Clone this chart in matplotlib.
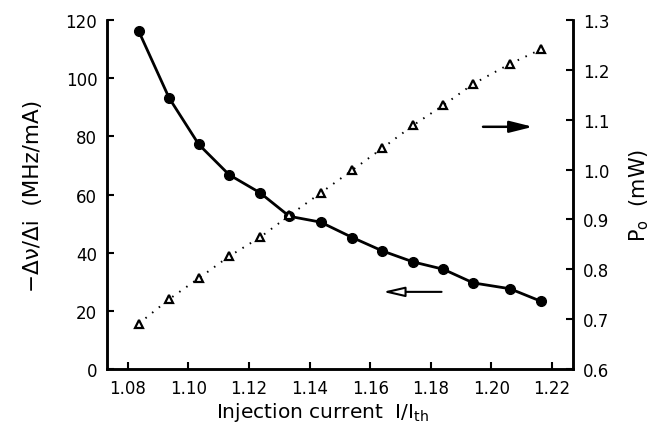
import matplotlib
matplotlib.use("Agg")
import matplotlib.pyplot as plt

# Data
current = [1.0836, 1.0936, 1.1034, 1.1134, 1.1236, 1.1333, 1.1436, 1.1541,
           1.1640, 1.1742, 1.1841, 1.1940, 1.2061, 1.2163]
tuning_rate = [116.1, 93.2, 77.2, 66.8, 60.6, 52.5, 50.5, 45.2,
               40.6, 36.8, 34.3, 29.6, 27.6, 23.3]
power = [0.691, 0.740, 0.782, 0.826, 0.864, 0.908, 0.953, 0.999,
         1.043, 1.089, 1.129, 1.172, 1.212, 1.241]

x_ticks = [1.08, 1.10, 1.12, 1.14, 1.16, 1.18, 1.20, 1.22]
x_tick_labels = ["1.08", "1.10", "1.12", "1.14", "1.16", "1.18", "1.20", "1.22"]
left_ticks = [0, 20, 40, 60, 80, 100, 120]
right_ticks = [0.6, 0.7, 0.8, 0.9, 1.0, 1.1, 1.2, 1.3]
right_tick_labels = ["0.6", "0.7", "0.8", "0.9", "1.0", "1.1", "1.2", "1.3"]

plt.rcParams['font.family'] = ['DejaVu Sans']

fig = plt.figure(figsize=(6.54, 4.27), dpi=100)
ax = fig.add_axes([0.1636, 0.1335, 0.7125, 0.8173])
ax2 = ax.twinx()

lw_spine = 1.8
for a in (ax, ax2):
    for s in a.spines.values():
        s.set_linewidth(lw_spine)
    a.spines['top'].set_visible(False)

ax.plot(current, tuning_rate, color='black', lw=2.0, marker='o', ms=7,
        mfc='black', mec='black', zorder=3)
ax2.plot(current, power, color='black', lw=1.4, linestyle=(0, (0.8, 3.6)),
         marker='^', ms=5.2, mfc='white', mec='black', mew=1.6, zorder=2)

ax.set_xlim(1.0731, 1.2269)
ax.set_ylim(0, 120)
ax2.set_ylim(0.6, 1.3)

ax.set_xticks(x_ticks)
ax.set_xticklabels(x_tick_labels)
ax.set_yticks(left_ticks)
ax2.set_yticks(right_ticks)
ax2.set_yticklabels(right_tick_labels)

ax.tick_params(axis='both', direction='in', length=5, width=1.5,
               labelsize=12, pad=7)
ax2.tick_params(axis='y', direction='in', length=5, width=1.5,
                labelsize=12, pad=7)

ax.set_xlabel("Injection current  I/I$_{\\mathregular{th}}$", fontsize=14.5)
ax.xaxis.set_label_coords(0.4635, -0.09)
ax.set_ylabel("\u2212\u0394\u03bd/\u0394i  (MHz/mA)", fontsize=15.5, labelpad=16)
ax2.set_ylabel("P$_{\\mathregular{o}}$  (mW)", fontsize=15, labelpad=13)

# arrows indicating axes
ax.annotate("", xy=(0.914, 0.694), xytext=(0.807, 0.694),
            xycoords='axes fraction', textcoords='axes fraction',
            arrowprops=dict(arrowstyle='-|>,head_length=1.4,head_width=0.35',
                            color='black', lw=1.8, shrinkA=0, shrinkB=0))
ax.annotate("", xy=(0.592, 0.221), xytext=(0.718, 0.221),
            xycoords='axes fraction', textcoords='axes fraction',
            arrowprops=dict(arrowstyle='-|>,head_length=1.3,head_width=0.3',
                            fc='white', ec='black', lw=1.5,
                            shrinkA=0, shrinkB=0))

fig.savefig("out.png", dpi=100)
